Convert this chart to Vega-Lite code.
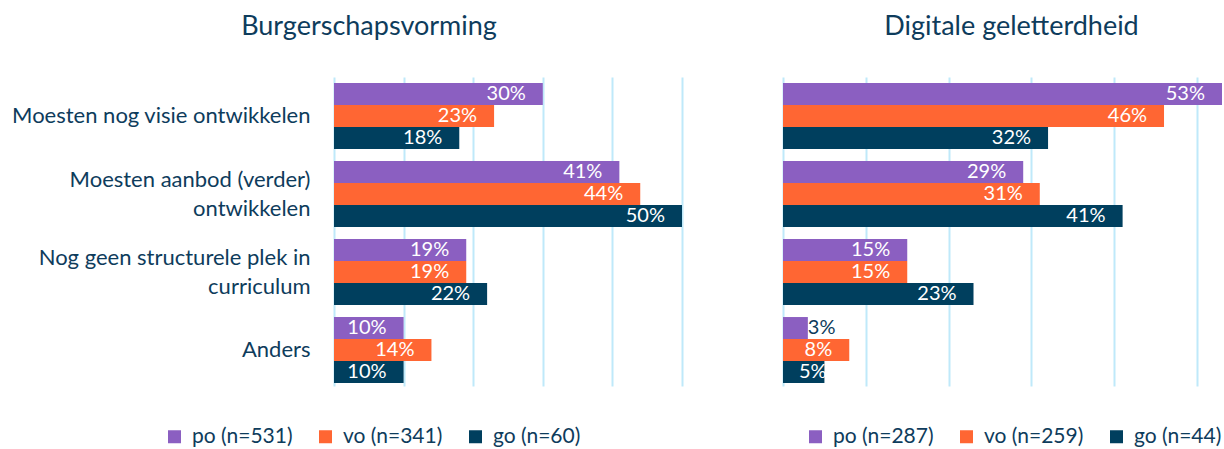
{
  "$schema": "https://vega.github.io/schema/vega-lite/v6.json",
  "background": "white",
  "padding": {"left": 11, "top": 13, "right": 0, "bottom": 0},
  "config": {
    "font": "Lato",
    "view": {"stroke": null},
    "legend": {
      "orient": "none",
      "direction": "horizontal",
      "symbolType": "square",
      "symbolSize": 169,
      "symbolStrokeWidth": 0,
      "labelFontSize": 21,
      "labelColor": "#0E3C5C",
      "labelOffset": 7,
      "columnPadding": 22,
      "labelLimit": 300,
      "title": null
    }
  },
  "data": {
    "values": [
      {"panel": "B", "cat": "Moesten nog visie ontwikkelen", "reeks": "po", "groep": "po (n=531)", "value": 0.30},
      {"panel": "B", "cat": "Moesten nog visie ontwikkelen", "reeks": "vo", "groep": "vo (n=341)", "value": 0.23},
      {"panel": "B", "cat": "Moesten nog visie ontwikkelen", "reeks": "go", "groep": "go (n=60)", "value": 0.18},
      {"panel": "B", "cat": "Moesten aanbod (verder) ontwikkelen", "reeks": "po", "groep": "po (n=531)", "value": 0.41},
      {"panel": "B", "cat": "Moesten aanbod (verder) ontwikkelen", "reeks": "vo", "groep": "vo (n=341)", "value": 0.44},
      {"panel": "B", "cat": "Moesten aanbod (verder) ontwikkelen", "reeks": "go", "groep": "go (n=60)", "value": 0.50},
      {"panel": "B", "cat": "Nog geen structurele plek in curriculum", "reeks": "po", "groep": "po (n=531)", "value": 0.19},
      {"panel": "B", "cat": "Nog geen structurele plek in curriculum", "reeks": "vo", "groep": "vo (n=341)", "value": 0.19},
      {"panel": "B", "cat": "Nog geen structurele plek in curriculum", "reeks": "go", "groep": "go (n=60)", "value": 0.22},
      {"panel": "B", "cat": "Anders", "reeks": "po", "groep": "po (n=531)", "value": 0.10},
      {"panel": "B", "cat": "Anders", "reeks": "vo", "groep": "vo (n=341)", "value": 0.14},
      {"panel": "B", "cat": "Anders", "reeks": "go", "groep": "go (n=60)", "value": 0.10},
      {"panel": "D", "cat": "Moesten nog visie ontwikkelen", "reeks": "po", "groep": "po (n=287)", "value": 0.53},
      {"panel": "D", "cat": "Moesten nog visie ontwikkelen", "reeks": "vo", "groep": "vo (n=259)", "value": 0.46},
      {"panel": "D", "cat": "Moesten nog visie ontwikkelen", "reeks": "go", "groep": "go (n=44)", "value": 0.32},
      {"panel": "D", "cat": "Moesten aanbod (verder) ontwikkelen", "reeks": "po", "groep": "po (n=287)", "value": 0.29},
      {"panel": "D", "cat": "Moesten aanbod (verder) ontwikkelen", "reeks": "vo", "groep": "vo (n=259)", "value": 0.31},
      {"panel": "D", "cat": "Moesten aanbod (verder) ontwikkelen", "reeks": "go", "groep": "go (n=44)", "value": 0.41},
      {"panel": "D", "cat": "Nog geen structurele plek in curriculum", "reeks": "po", "groep": "po (n=287)", "value": 0.15},
      {"panel": "D", "cat": "Nog geen structurele plek in curriculum", "reeks": "vo", "groep": "vo (n=259)", "value": 0.15},
      {"panel": "D", "cat": "Nog geen structurele plek in curriculum", "reeks": "go", "groep": "go (n=44)", "value": 0.23},
      {"panel": "D", "cat": "Anders", "reeks": "po", "groep": "po (n=287)", "value": 0.03},
      {"panel": "D", "cat": "Anders", "reeks": "vo", "groep": "vo (n=259)", "value": 0.08},
      {"panel": "D", "cat": "Anders", "reeks": "go", "groep": "go (n=44)", "value": 0.05}
    ]
  },
  "spacing": 101,
  "resolve": {"scale": {"color": "independent", "x": "independent"}, "legend": {"color": "independent"}},
  "hconcat": [
    {
      "width": 348,
      "height": 309,
      "transform": [{"filter": "datum.panel == 'B'"}],
      "title": {"text": "Burgerschapsvorming", "fontSize": 27, "fontWeight": "normal", "color": "#0E3C5C", "anchor": "middle", "frame": "group", "dx": -139, "offset": 36},
      "encoding": {
        "y": {
          "field": "cat", "type": "nominal",
          "sort": ["Moesten nog visie ontwikkelen", "Moesten aanbod (verder) ontwikkelen", "Nog geen structurele plek in curriculum", "Anders"],
          "scale": {"paddingInner": 0.154, "paddingOuter": 0.058, "align": 0.67},
          "axis": {
            "title": null, "ticks": false, "domain": false, "labelFontSize": 22, "labelColor": "#0E3C5C",
            "labelPadding": 24, "labelLimit": 400, "labelLineHeight": 29,
            "labelOffset": {"condition": {"test": "datum.value == 'Moesten aanbod (verder) ontwikkelen' || datum.value == 'Nog geen structurele plek in curriculum'", "value": -14}, "value": 0},
            "labelExpr": "datum.value == 'Moesten aanbod (verder) ontwikkelen' ? ['Moesten aanbod (verder)', 'ontwikkelen'] : datum.value == 'Nog geen structurele plek in curriculum' ? ['Nog geen structurele plek in', 'curriculum'] : datum.value"
          }
        },
        "yOffset": {"field": "reeks", "type": "nominal", "sort": ["po", "vo", "go"], "scale": {"paddingInner": 0, "paddingOuter": 0}},
        "x": {
          "field": "value", "type": "quantitative",
          "scale": {"domain": [0, 0.5], "nice": false},
          "axis": {"title": null, "labels": false, "ticks": false, "domain": false, "grid": true, "values": [0, 0.1, 0.2, 0.3, 0.4, 0.5], "gridColor": "#BFE9FA", "gridWidth": 2, "gridOpacity": 1}
        }
      },
      "layer": [
        {
          "mark": {"type": "bar"},
          "encoding": {
            "color": {
              "field": "groep", "type": "nominal",
              "scale": {"domain": ["po (n=531)", "vo (n=341)", "go (n=60)"], "range": ["#8B5FC1", "#FF6633", "#003F5E"]},
              "legend": {"legendX": -170, "legendY": 349}
            }
          }
        },
        {
          "transform": [{"filter": "datum.value >= 0.07"}],
          "mark": {"type": "text", "align": "right", "baseline": "middle", "dx": -17, "color": "white", "fontSize": 20},
          "encoding": {"text": {"field": "value", "type": "quantitative", "format": ".0%"}}
        }
      ]
    },
    {
      "width": 439,
      "height": 309,
      "transform": [{"filter": "datum.panel == 'D'"}],
      "title": {"text": "Digitale geletterdheid", "fontSize": 27, "fontWeight": "normal", "color": "#0E3C5C", "anchor": "middle", "frame": "group", "dx": 9, "offset": 36},
      "encoding": {
        "y": {
          "field": "cat", "type": "nominal",
          "sort": ["Moesten nog visie ontwikkelen", "Moesten aanbod (verder) ontwikkelen", "Nog geen structurele plek in curriculum", "Anders"],
          "scale": {"paddingInner": 0.154, "paddingOuter": 0.058, "align": 0.67},
          "axis": null
        },
        "yOffset": {"field": "reeks", "type": "nominal", "sort": ["po", "vo", "go"], "scale": {"paddingInner": 0, "paddingOuter": 0}},
        "x": {
          "field": "value", "type": "quantitative",
          "scale": {"domain": [0, 0.53], "nice": false},
          "axis": {"title": null, "labels": false, "ticks": false, "domain": false, "grid": true, "values": [0, 0.1, 0.2, 0.3, 0.4, 0.5], "gridColor": "#BFE9FA", "gridWidth": 2, "gridOpacity": 1}
        }
      },
      "layer": [
        {
          "mark": {"type": "bar"},
          "encoding": {
            "color": {
              "field": "groep", "type": "nominal",
              "scale": {"domain": ["po (n=287)", "vo (n=259)", "go (n=44)"], "range": ["#8B5FC1", "#FF6633", "#003F5E"]},
              "legend": {"legendX": 22, "legendY": 349}
            }
          }
        },
        {
          "transform": [{"filter": "datum.value >= 0.07"}],
          "mark": {"type": "text", "align": "right", "baseline": "middle", "dx": -17, "color": "white", "fontSize": 20},
          "encoding": {"text": {"field": "value", "type": "quantitative", "format": ".0%"}}
        },
        {
          "transform": [{"filter": "datum.value >= 0.04 && datum.value < 0.07"}],
          "mark": {"type": "text", "align": "left", "baseline": "middle", "dx": 16, "color": "white", "fontSize": 20},
          "encoding": {"x": {"datum": 0}, "text": {"field": "value", "type": "quantitative", "format": ".0%"}}
        },
        {
          "transform": [{"filter": "datum.value < 0.04"}],
          "mark": {"type": "text", "align": "left", "baseline": "middle", "dx": 0, "color": "#0E3C5C", "fontSize": 20},
          "encoding": {"text": {"field": "value", "type": "quantitative", "format": ".0%"}}
        }
      ]
    }
  ]
}
